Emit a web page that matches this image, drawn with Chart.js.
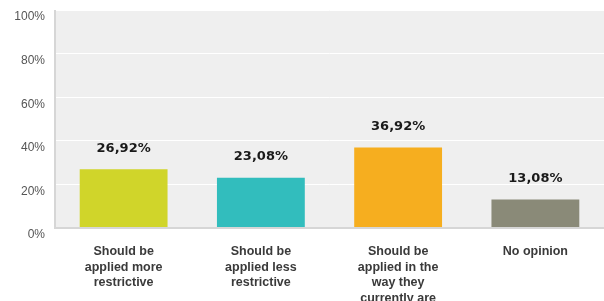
<!DOCTYPE html>
<html>
<head>
<meta charset="utf-8">
<script src="https://cdn.jsdelivr.net/npm/chart.js@4.4.0/dist/chart.umd.min.js"></script>
<style>
  html, body { margin: 0; padding: 0; background: #fff; }
  #wrap { width: 604px; height: 301px; }
</style>
</head>
<body>
<div id="wrap"><canvas id="surveyChart" width="604" height="301"></canvas></div>
<script>
const categories = [
    ['Should be', 'applied more', 'restrictive'],
    ['Should be', 'applied less', 'restrictive'],
    ['Should be', 'applied in the', 'way they', 'currently are'],
    ['No opinion']
];
const percentages = [26.92, 23.08, 36.92, 13.08];
const barColors = ['#d0d52a', '#32bdbd', '#f6ae1f', '#8a8a78'];

// grey plot background + left/bottom border
const plotBackground = {
    id: 'plotBackground',
    beforeDraw(chart) {
        const { ctx, chartArea: a } = chart;
        ctx.save();
        ctx.fillStyle = '#efefef';
        ctx.fillRect(a.left, a.top, a.right - a.left, a.bottom - a.top);
        ctx.restore();
    },
    afterDatasetsDraw(chart) {
        const { ctx, chartArea: a } = chart;
        ctx.save();
        ctx.strokeStyle = '#d6d6d6';
        ctx.lineWidth = 2;
        ctx.beginPath();
        ctx.moveTo(a.left, a.top);
        ctx.lineTo(a.left, a.bottom);
        ctx.lineTo(a.right, a.bottom);
        ctx.stroke();
        ctx.restore();
    }
};

// value labels above bars
const valueLabels = {
    id: 'valueLabels',
    afterDatasetsDraw(chart) {
        const { ctx } = chart;
        const meta = chart.getDatasetMeta(0);
        ctx.save();
        ctx.font = 'bold 13px "DejaVu Sans"';
        ctx.fillStyle = '#1a1a1a';
        ctx.textAlign = 'center';
        ctx.textBaseline = 'middle';
        meta.data.forEach((bar, i) => {
            const txt = percentages[i].toFixed(2).replace('.', ',') + '%';
            ctx.fillText(txt, bar.x, bar.y - 21);
        });
        ctx.restore();
    }
};

const ctx = document.getElementById('surveyChart').getContext('2d');
const surveyChart = new Chart(ctx, {
    type: 'bar',
    data: {
        labels: categories,
        datasets: [{
            data: percentages,
            backgroundColor: barColors,
            borderWidth: 0,
            categoryPercentage: 0.64,
            barPercentage: 1
        }]
    },
    options: {
        responsive: false,
        animation: false,
        layout: { padding: { top: 10, left: 0, right: 0, bottom: 0 } },
        plugins: {
            legend: { display: false },
            tooltip: { enabled: false }
        },
        scales: {
            x: {
                grid: { display: false, drawTicks: false },
                border: { display: false },
                afterFit(scale) {
                    scale.height = 73;
                    scale.paddingLeft = 0;
                    scale.paddingRight = 0;
                },
                ticks: {
                    color: '#3a3a3a',
                    font: { family: 'Liberation Sans', size: 12.5, weight: 'bold', lineHeight: 1.24 },
                    padding: 16,
                    maxRotation: 0,
                    autoSkip: false
                }
            },
            y: {
                min: 0,
                max: 100,
                grid: { color: '#ffffff', lineWidth: 1, drawTicks: false },
                border: { display: false },
                afterFit(scale) {
                    scale.width = 55;
                    scale.paddingTop = 0;
                    scale.paddingBottom = 0;
                },
                ticks: {
                    stepSize: 20,
                    color: '#555',
                    padding: 10,
                    labelOffset: 7,
                    font: { family: 'Liberation Sans', size: 12 },
                    callback: v => v + '%'
                }
            }
        }
    },
    plugins: [plotBackground, valueLabels]
});
</script>
</body>
</html>
